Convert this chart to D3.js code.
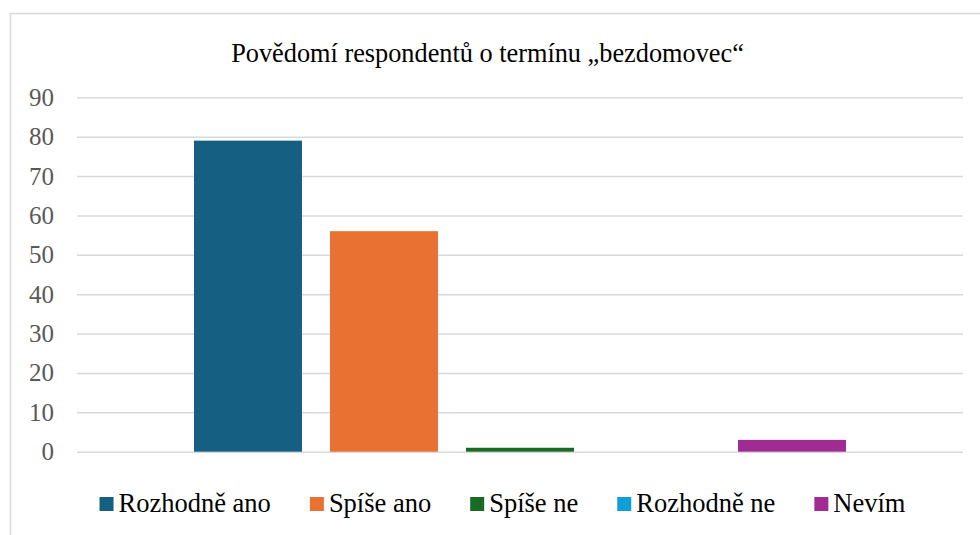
<!DOCTYPE html>
<html>
<head>
<meta charset="utf-8">
<script src="https://cdn.jsdelivr.net/npm/d3@7"></script>
<style>
  body { margin: 0; background: #fff; }
  svg { display: block; }
</style>
</head>
<body>
<svg id="chart" width="980" height="535"></svg>
<script>
// data
var title = "Povědomí respondentů o termínu „bezdomovec“";
var category = ["Povědomí"];
var seriesNames = ["Rozhodně ano", "Spíše ano", "Spíše ne", "Rozhodně ne", "Nevím"];
var seriesValues = [79, 56, 1, 0, 3];
var seriesColors = ["#156082", "#e97132", "#196b24", "#0f9ed5", "#a02b93"];
var yTicks = [0, 10, 20, 30, 40, 50, 60, 70, 80, 90];

var serif = "'Liberation Serif'";
var svg = d3.select("#chart");

// chart border (runs off the right and bottom)
svg.append("rect")
   .attr("x", 10.5).attr("y", 13.5)
   .attr("width", 990).attr("height", 540)
   .attr("fill", "none")
   .attr("stroke", "#d9d9d9")
   .attr("stroke-width", 1.5);

var plotLeft = 77, plotRight = 963, plotTop = 97.3, plotBottom = 451.7;

var yScale = d3.scaleLinear().domain([0, 90]).range([plotBottom, plotTop]);
var x0 = d3.scaleBand().domain(category).range([plotLeft, plotRight]).paddingInner(0).paddingOuter(0.1794);
var x1 = d3.scaleBand().domain(seriesNames).range([0, x0.bandwidth()]).paddingInner(0.206).paddingOuter(0);

// title
svg.append("text")
   .attr("x", 487.5)
   .attr("y", 62)
   .attr("text-anchor", "middle")
   .style("font-family", serif)
   .style("font-size", "26.3px")
   .attr("fill", "#000")
   .text(title);

// gridlines + y labels
var yAxis = svg.append("g")
   .attr("transform", "translate(" + plotLeft + ",0)")
   .call(d3.axisLeft(yScale).tickValues(yTicks).tickSize(-(plotRight - plotLeft)).tickPadding(23));
yAxis.attr("font-family", null).attr("font-size", null);
yAxis.select(".domain").remove();
yAxis.selectAll(".tick line").attr("stroke", "#d9d9d9").attr("stroke-width", 1.5);
yAxis.selectAll(".tick text")
   .style("font-family", serif)
   .style("font-size", "25px")
   .attr("fill", "#595959");

// bars
var g = svg.append("g").attr("transform", "translate(" + x0(category[0]) + ",0)");
g.selectAll(".bar")
 .data(seriesNames)
 .enter().append("rect")
 .attr("class", "bar")
 .attr("x", function(d) { return x1(d); })
 .attr("y", function(d, i) { return yScale(seriesValues[i]); })
 .attr("width", x1.bandwidth())
 .attr("height", function(d, i) { return plotBottom - yScale(seriesValues[i]); })
 .attr("fill", function(d, i) { return seriesColors[i]; });

// legend
var legend = svg.append("g").attr("transform", "translate(0,512)");
var items = legend.selectAll("g")
   .data(seriesNames)
   .enter().append("g");
items.append("rect")
   .attr("y", -15).attr("width", 14).attr("height", 14)
   .attr("fill", function(d, i) { return seriesColors[i]; });
items.append("text")
   .attr("x", 19)
   .style("font-family", serif)
   .style("font-size", "26.5px")
   .attr("fill", "#000")
   .text(function(d) { return d; });

var xPos = 0, gap = 39, widths = [];
items.each(function() { widths.push(19 + d3.select(this).select("text").node().getComputedTextLength()); });
var total = d3.sum(widths) + gap * (widths.length - 1);
xPos = 502.5 - total / 2;
items.attr("transform", function(d, i) {
  var t = "translate(" + xPos + ",0)";
  xPos += widths[i] + gap;
  return t;
});
</script>
</body>
</html>
